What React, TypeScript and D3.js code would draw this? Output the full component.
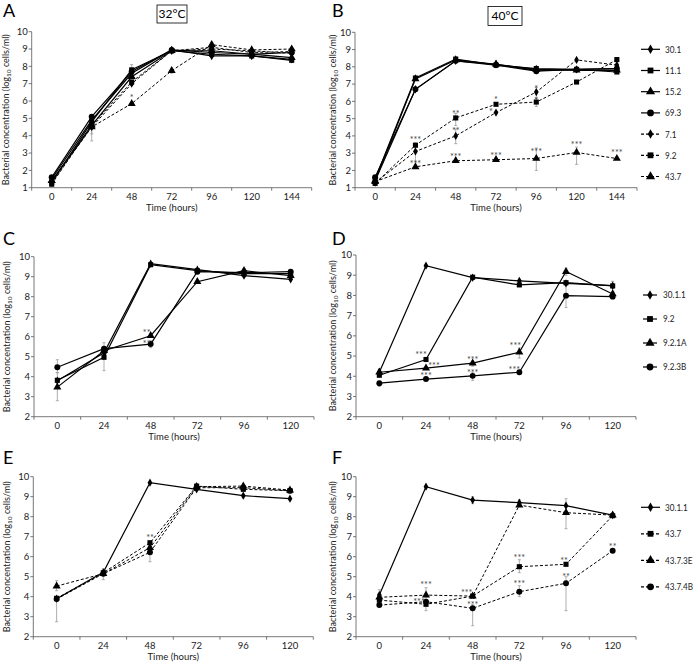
import React from "react";
import * as d3 from "d3";

// ---------- categories & ticks ----------
const TIMES_144 = ["0", "24", "48", "72", "96", "120", "144"];
const TIMES_120 = ["0", "24", "48", "72", "96", "120"];
const YTICKS_1_10 = [1, 2, 3, 4, 5, 6, 7, 8, 9, 10];
const YTICKS_2_10 = [2, 3, 4, 5, 6, 7, 8, 9, 10];

// ---------- legends ----------
const LEGEND_AB = ["30.1", "11.1", "15.2", "69.3", "7.1", "9.2", "43.7"];
const LEGEND_CD = ["30.1.1", "9.2", "9.2.1A", "9.2.3B"];
const LEGEND_EF = ["30.1.1", "43.7", "43.7.3E", "43.7.4B"];
const SHAPES_AB = ["diamond", "square", "triangle", "circle", "diamond", "square", "triangle"];
const SHAPES_4 = ["diamond", "square", "triangle", "circle"];
const DASHED_AB = [false, false, false, false, true, true, true];
const DASHED_CD = [false, false, false, false];
const DASHED_EF = [false, true, true, true];

// ---------- Panel A (32°C) ----------
const A_30_1 = [1.5, 4.9, 7.6, 8.95, 8.6, 8.6, 8.4];
const A_11_1 = [1.3, 4.8, 7.8, 8.9, 8.7, 8.6, 8.35];
const A_15_2 = [1.4, 4.6, 7.4, 8.9, 8.9, 8.7, 8.5];
const A_69_3 = [1.6, 5.1, 7.7, 8.95, 8.8, 8.7, 8.8];
const A_7_1 = [1.3, 4.5, 7.0, 8.9, 9.0, 8.9, 8.75];
const A_9_2 = [1.2, 4.6, 7.1, 8.9, 9.1, 8.8, 8.85];
const A_43_7 = [1.4, 4.5, 5.85, 7.75, 9.25, 8.95, 9.0];

// ---------- Panel B (40°C) ----------
const B_30_1 = [1.4, 6.7, 8.35, 8.15, 7.8, 7.85, 7.9];
const B_11_1 = [1.5, 7.35, 8.45, 8.1, 7.9, 7.85, 7.7];
const B_15_2 = [1.4, 7.3, 8.4, 8.15, 7.85, 7.8, 7.8];
const B_69_3 = [1.6, 6.7, 8.35, 8.1, 7.75, 7.85, 7.9];
const B_7_1 = [1.3, 3.1, 4.0, 5.35, 6.54, 8.4, 8.1];
const B_9_2 = [1.25, 3.46, 5.04, 5.83, 5.96, 7.12, 8.42];
const B_43_7 = [1.35, 2.21, 2.56, 2.62, 2.69, 3.04, 2.69];

// ---------- Panel C ----------
const C_30_1_1 = [3.8, 5.2, 9.65, 9.35, 9.05, 8.87];
const C_9_2 = [3.82, 4.97, 9.6, 9.3, 9.15, 9.15];
const C_9_2_1A = [3.48, 5.3, 6.05, 8.75, 9.3, 9.05];
const C_9_2_3B = [4.47, 5.4, 5.63, 9.25, 9.2, 9.25];

// ---------- Panel D ----------
const D_30_1_1 = [4.2, 9.47, 8.88, 8.72, 8.6, 8.48];
const D_9_2 = [4.05, 4.83, 8.9, 8.52, 8.63, 8.47];
const D_9_2_1A = [4.2, 4.4, 4.65, 5.19, 9.18, 8.07];
const D_9_2_3B = [3.66, 3.86, 4.02, 4.2, 7.99, 7.94];

// ---------- Panel E ----------
const E_30_1_1 = [3.9, 5.22, 9.7, 9.37, 9.05, 8.9];
const E_43_7 = [3.92, 5.2, 6.7, 9.53, 9.37, 9.3];
const E_43_7_3E = [4.53, 5.15, 6.45, 9.5, 9.53, 9.33];
const E_43_7_4B = [3.88, 5.15, 6.22, 9.45, 9.45, 9.3];

// ---------- Panel F ----------
const F_30_1_1 = [4.08, 9.5, 8.83, 8.7, 8.55, 8.08];
const F_43_7 = [3.83, 3.62, 4.03, 5.5, 5.62, 8.05];
const F_43_7_3E = [3.97, 4.08, 4.03, 8.58, 8.2, 8.08];
const F_43_7_4B = [3.58, 3.75, 3.42, 4.25, 4.67, 6.3];

// ---------- error bars: [series, timeIndex, low, high] ----------
const ERR_A = [[6, 1, 3.7, 5.0], [5, 1, 4.1, 5.0], [1, 2, 7.5, 8.1], [6, 3, 7.6, 7.9], [6, 4, 9.1, 9.4]];
const ERR_B = [[4, 1, 2.5, 3.6], [4, 2, 3.55, 4.4], [5, 2, 4.6, 5.3], [6, 4, 2.0, 3.3], [6, 5, 2.35, 3.35], [4, 4, 6.2, 6.8], [5, 4, 5.7, 6.2]];
const ERR_C = [[3, 0, 4.2, 4.85], [2, 0, 2.8, 4.2], [1, 1, 4.3, 5.7], [3, 2, 5.45, 5.8], [2, 4, 9.1, 9.4]];
const ERR_D = [[3, 4, 7.4, 8.5], [2, 4, 9.0, 9.35], [2, 3, 4.9, 5.4], [3, 0, 3.5, 3.75], [3, 2, 3.8, 4.2], [0, 0, 4.0, 4.35], [1, 5, 8.2, 8.7], [2, 2, 4.5, 4.75]];
const ERR_E = [[3, 0, 2.75, 4.0], [2, 0, 4.3, 4.8], [3, 2, 5.75, 6.4], [1, 1, 4.85, 5.4]];
const ERR_F = [[3, 4, 3.3, 5.0], [3, 2, 2.55, 3.6], [2, 4, 7.4, 8.9], [2, 1, 3.7, 4.45], [1, 3, 5.2, 5.85], [3, 3, 4.0, 4.55], [0, 0, 3.8, 4.35], [0, 2, 8.65, 9.0], [0, 3, 8.5, 8.85], [1, 1, 3.3, 3.8]];

// ---------- significance marks: [timeIndex, value, text, dx] ----------
const STARS_A = [[2, 6.3, "*", 0]];
const STARS_B = [[1, 3.85, "***", 0], [1, 2.5, "***", 0], [2, 5.4, "**", 0], [2, 4.4, "**", 0], [2, 2.88, "***", 0], [3, 6.2, "*", 0], [3, 5.5, "*", -5], [3, 2.98, "***", 0], [4, 6.83, "*", 0], [4, 6.15, "*", 0], [4, 3.17, "***", 0], [5, 3.56, "***", 0], [6, 3.1, "***", 0]];
const STARS_C = [[2, 6.28, "**", -4], [2, 5.72, "**", -4]];
const STARS_D = [[1, 5.14, "***", -5], [1, 4.6, "***", 8], [1, 4.1, "***", 0], [2, 4.9, "***", 0], [2, 4.27, "***", 0], [3, 5.6, "***", -4], [3, 4.4, "***", -5]];
const STARS_E = [[2, 7.03, "**", 0]];
const STARS_F = [[1, 4.67, "***", 0], [1, 3.83, "***", -7], [2, 4.28, "***", -6], [2, 3.67, "***", 0], [3, 6.05, "***", 0], [3, 4.75, "***", 0], [4, 5.87, "**", -2], [4, 5.08, "**", 0], [5, 6.58, "**", 0]];

const FONT = "Lato, 'Liberation Sans', sans-serif";

const SYMBOLS: Record<string, [d3.SymbolType, number]> = {
  diamond: [d3.symbolDiamond, 20],
  square: [d3.symbolSquare, 26],
  triangle: [d3.symbolTriangle, 28],
  circle: [d3.symbolCircle, 28],
};

function Marker({ shape, x, y, scale = 1 }: { shape: string; x: number; y: number; scale?: number }) {
  const [t, s] = SYMBOLS[shape];
  const d = d3.symbol().type(t).size(s * scale)() as string;
  return <path d={d} transform={`translate(${x},${y})`} fill="#000" />;
}

type PanelProps = {
  cats: string[];
  series: number[][];
  shapes: string[];
  dashed: boolean[];
  yDomain: [number, number];
  yTicks: number[];
  left: number;
  right: number;
  top: number;
  bottom: number;
  errs: number[][];
  stars: any[];
  letter: string;
  letterX: number;
  letterY: number;
  titleX: number;
};

function Panel(p: PanelProps) {
  const x = d3.scaleBand<string>().domain(p.cats).range([p.left, p.right]);
  const y = d3.scaleLinear().domain(p.yDomain).range([p.bottom, p.top]);
  const cx = (i: number) => (x(p.cats[i]) as number) + x.bandwidth() / 2;
  const line = d3.line<number>().x((_, i) => cx(i)).y((d) => y(d));
  const boundaries = d3.range(p.cats.length + 1).map((k) => p.left + k * x.bandwidth());
  const midY = (p.top + p.bottom) / 2;
  const midX = (p.left + p.right) / 2;
  return (
    <g>
      <text x={p.letterX} y={p.letterY} fontSize={18} fontFamily={FONT}>{p.letter}</text>
      {/* axes */}
      <line x1={p.left} x2={p.left} y1={p.top} y2={p.bottom} stroke="#555" strokeWidth={0.8} />
      <line x1={p.left} x2={p.right} y1={p.bottom} y2={p.bottom} stroke="#555" strokeWidth={0.8} />
      {p.yTicks.map((t) => (
        <g key={"yt" + t}>
          <line x1={p.left - 3} x2={p.left} y1={y(t)} y2={y(t)} stroke="#555" strokeWidth={0.8} />
          <text x={p.left - 4} y={y(t) + 3.3} fontSize={9.5} textAnchor="end" fontFamily={FONT} fill="#222">{t}</text>
        </g>
      ))}
      {boundaries.map((bx, k) => (
        <line key={"xb" + k} x1={bx} x2={bx} y1={p.bottom} y2={p.bottom + 3} stroke="#555" strokeWidth={0.8} />
      ))}
      {p.cats.map((c, i) => (
        <text key={"xl" + c} x={cx(i)} y={p.bottom + 12.5} fontSize={9.5} textAnchor="middle" fontFamily={FONT} fill="#222">{c}</text>
      ))}
      <text x={midX} y={p.bottom + 23} fontSize={9.5} textAnchor="middle" fontFamily={FONT} fill="#222">Time (hours)</text>
      <text transform={`translate(${p.titleX},${midY}) rotate(-90)`} fontSize={9} textAnchor="middle" fontFamily={FONT} fill="#222">
        Bacterial concentration (log<tspan fontSize={6.5} dy={2}>10</tspan><tspan dy={-2}> cells/ml)</tspan>
      </text>
      {/* error bars */}
      {p.errs.map(([s, t, lo, hi], k) => (
        <g key={"e" + k} stroke="#999" strokeWidth={0.8}>
          <line x1={cx(t)} x2={cx(t)} y1={y(lo)} y2={y(hi)} />
          <line x1={cx(t) - 1.5} x2={cx(t) + 1.5} y1={y(lo)} y2={y(lo)} />
          <line x1={cx(t) - 1.5} x2={cx(t) + 1.5} y1={y(hi)} y2={y(hi)} />
        </g>
      ))}
      {/* lines */}
      {p.series.map((vals, si) => (
        <path key={"l" + si} d={line(vals) as string} fill="none" stroke="#000" strokeWidth={p.dashed[si] ? 1 : 1.2}
          strokeDasharray={p.dashed[si] ? "3,2" : undefined} />
      ))}
      {/* markers */}
      {p.series.map((vals, si) =>
        vals.map((v, i) => <Marker key={"m" + si + "_" + i} shape={p.shapes[si]} x={cx(i)} y={y(v)} />)
      )}
      {/* stars */}
      {p.stars.map(([t, v, txt, dx], k) => (
        <text key={"s" + k} x={cx(t) + dx} y={y(v) + 5} fontSize={9} textAnchor="middle" fontFamily={FONT} fill="#444">{txt}</text>
      ))}
    </g>
  );
}

function Legend({ labels, shapes, dashed, x0, x1, tx, y0, dy }: any) {
  return (
    <g>
      {labels.map((lab: string, i: number) => {
        const yy = y0 + i * dy;
        return (
          <g key={lab + i}>
            <line x1={x0} x2={x1} y1={yy} y2={yy} stroke="#000" strokeWidth={1.2} strokeDasharray={dashed[i] ? "3,2" : undefined} />
            <Marker shape={shapes[i]} x={(x0 + x1) / 2} y={yy} scale={1.3} />
            <text transform={`translate(${tx},${yy + 3.4}) scale(0.86,1)`} fontSize={9.5} fontFamily={FONT} fill="#222">{lab}</text>
          </g>
        );
      })}
    </g>
  );
}

function TempBox({ cx, cy, w, h, label }: any) {
  return (
    <g>
      <rect x={cx - w / 2} y={cy - h / 2} width={w} height={h} fill="#fff" stroke="#000" strokeWidth={0.8} />
      <text x={cx} y={cy + 4} fontSize={12} textAnchor="middle" fontFamily={FONT}>{label}</text>
    </g>
  );
}

export default function App() {
  return (
    <svg width={696} height={664} style={{ position: "absolute", left: 0, top: 0, background: "#fff" }}>
      <rect width={696} height={664} fill="#fff" />
      <Panel cats={TIMES_144} series={[A_30_1, A_11_1, A_15_2, A_69_3, A_7_1, A_9_2, A_43_7]} shapes={SHAPES_AB} dashed={DASHED_AB}
        yDomain={[1, 10]} yTicks={YTICKS_1_10} left={31.7} right={311.7} top={31.7} bottom={187.7}
        errs={ERR_A} stars={STARS_A} letter="A" letterX={3} letterY={17} titleX={9} />
      <Panel cats={TIMES_144} series={[B_30_1, B_11_1, B_15_2, B_69_3, B_7_1, B_9_2, B_43_7]} shapes={SHAPES_AB} dashed={DASHED_AB}
        yDomain={[1, 10]} yTicks={YTICKS_1_10} left={355} right={637} top={32.3} bottom={187.7}
        errs={ERR_B} stars={STARS_B} letter="B" letterX={332} letterY={17} titleX={336} />
      <TempBox cx={172} cy={14} w={30} h={18} label="32°C" />
      <TempBox cx={505} cy={16} w={34} h={19} label="40°C" />
      <Legend labels={LEGEND_AB} shapes={SHAPES_AB} dashed={DASHED_AB} x0={641} x1={660} tx={665} y0={49.3} dy={21.2} />

      <Panel cats={TIMES_120} series={[C_30_1_1, C_9_2, C_9_2_1A, C_9_2_3B]} shapes={SHAPES_4} dashed={DASHED_CD}
        yDomain={[2, 10]} yTicks={YTICKS_2_10} left={34} right={314} top={256.7} bottom={416.7}
        errs={ERR_C} stars={STARS_C} letter="C" letterX={3} letterY={245} titleX={10} />
      <Panel cats={TIMES_120} series={[D_30_1_1, D_9_2, D_9_2_1A, D_9_2_3B]} shapes={SHAPES_4} dashed={DASHED_CD}
        yDomain={[2, 10]} yTicks={YTICKS_2_10} left={356} right={636} top={255} bottom={416.7}
        errs={ERR_D} stars={STARS_D} letter="D" letterX={332} letterY={245} titleX={336} />
      <Legend labels={LEGEND_CD} shapes={SHAPES_4} dashed={DASHED_CD} x0={643} x1={657} tx={663} y0={295} dy={24} />

      <Panel cats={TIMES_120} series={[E_30_1_1, E_43_7, E_43_7_3E, E_43_7_4B]} shapes={SHAPES_4} dashed={DASHED_EF}
        yDomain={[2, 10]} yTicks={YTICKS_2_10} left={33.3} right={313.3} top={476.7} bottom={636.7}
        errs={ERR_E} stars={STARS_E} letter="E" letterX={3} letterY={464} titleX={10} />
      <Panel cats={TIMES_120} series={[F_30_1_1, F_43_7, F_43_7_3E, F_43_7_4B]} shapes={SHAPES_4} dashed={DASHED_EF}
        yDomain={[2, 10]} yTicks={YTICKS_2_10} left={356} right={636} top={476.7} bottom={636.7}
        errs={ERR_F} stars={STARS_F} letter="F" letterX={332} letterY={464} titleX={336} />
      <Legend labels={LEGEND_EF} shapes={SHAPES_4} dashed={DASHED_EF} x0={641} x1={660} tx={665} y0={507.3} dy={26.5} />
    </svg>
  );
}
